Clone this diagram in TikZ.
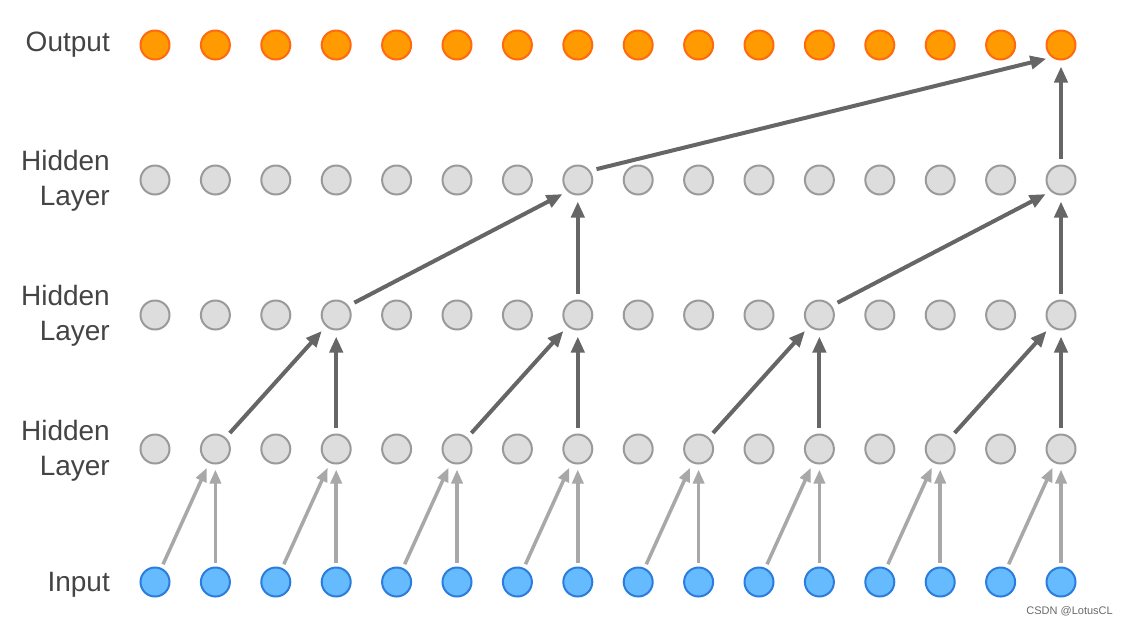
\documentclass[tikz,border=0pt]{standalone}
\usepackage{fontspec}
\setmainfont{Liberation Sans}
\usetikzlibrary{arrows.meta}
\definecolor{outfill}{HTML}{FF9A00}
\definecolor{outdraw}{HTML}{FF6A10}
\definecolor{hidfill}{HTML}{DDDDDD}
\definecolor{hiddraw}{HTML}{9A9A9A}
\definecolor{infill}{HTML}{66BBFF}
\definecolor{indraw}{HTML}{2A7DDD}
\definecolor{lbl}{HTML}{444444}
\definecolor{lightarr}{HTML}{A8A8A8}
\definecolor{darkarr}{HTML}{666666}
\tikzset{
  neuron/.style={circle, minimum size=29pt, inner sep=0pt, line width=2pt},
  outn/.style={neuron, fill=outfill, draw=outdraw},
  hidn/.style={neuron, fill=hidfill, draw=hiddraw},
  inn/.style={neuron, fill=infill, draw=indraw},
  lab/.style={font=\fontsize{28pt}{35pt}\selectfont, text=lbl, align=right, anchor=east, inner sep=0pt},
  lightarrow/.style={draw=lightarr, line width=3.5pt, -{Triangle[length=14pt,width=11pt]}, shorten <=4pt, shorten >=5pt},
  darkarrow/.style={draw=darkarr, line width=4pt, -{Triangle[length=16pt,width=13pt]}, shorten <=6pt, shorten >=6pt},
  longarrow/.style={darkarrow, shorten <=6.5pt, shorten >=5.5pt}
}
\begin{document}
\begin{tikzpicture}[x=1pt,y=-1pt]
\useasboundingbox (0,0) rectangle (1128,625);
\foreach \i in {0,...,15}{
  \pgfmathsetmacro{\xx}{155+60.4*\i}
  \node[outn] (o\i) at (\xx,45) {};
  \node[hidn] (c\i) at (\xx,180) {};
  \node[hidn] (b\i) at (\xx,315) {};
  \node[hidn] (a\i) at (\xx,449) {};
  \node[inn] (in\i) at (\xx,582) {};
}
\node[lab] (lo) at (110,45) {Output};
\node[lab] (l3) at (110,181) {Hidden\\Layer};
\node[lab] (l2) at (110,316) {Hidden\\Layer};
\node[lab] (l1) at (110,451) {Hidden\\Layer};
\node[lab] (li) at (110,585) {Input};
% input -> hidden 1
\foreach \j in {1,3,5,7,9,11,13,15}{
  \pgfmathtruncatemacro{\p}{\j-1}
  \draw[lightarrow] (in\p) -- (a\j);
  \draw[lightarrow] (in\j) -- (a\j);
}
% hidden 1 -> hidden 2
\foreach \j in {3,7,11,15}{
  \pgfmathtruncatemacro{\p}{\j-2}
  \draw[darkarrow] (a\p) -- (b\j);
  \draw[darkarrow] (a\j) -- (b\j);
}
% hidden 2 -> hidden 3
\foreach \j in {7,15}{
  \pgfmathtruncatemacro{\p}{\j-4}
  \draw[longarrow] (b\p.37) -- (c\j.228);
  \draw[darkarrow] (b\j) -- (c\j);
}
% hidden 3 -> output
\draw[longarrow] (c7.37) -- (o15.233);
\draw[darkarrow] (c15) -- (o15);
\node[font=\fontsize{11pt}{13pt}\selectfont, text=lbl!80, anchor=east, inner sep=0pt] (wm) at (1113,611) {CSDN @LotusCL};
\end{tikzpicture}
\end{document}
